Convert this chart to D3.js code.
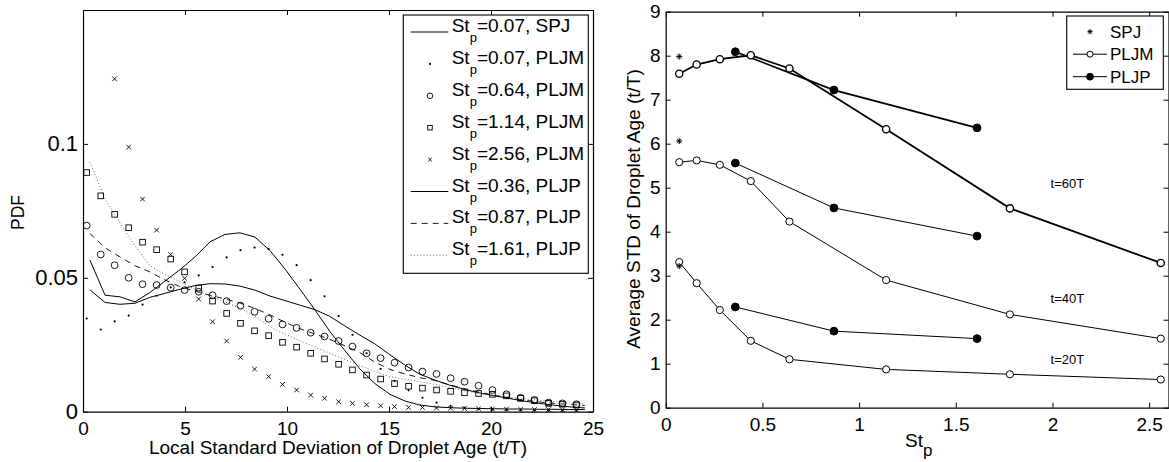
<!DOCTYPE html>
<html>
<head>
<meta charset="utf-8">
<script src="https://cdn.jsdelivr.net/npm/d3@7"></script>
<style>
  html, body { margin: 0; padding: 0; background: #fff; }
  svg { display: block; }
</style>
</head>
<body>
<script>
// ---------------- DATA: left panel (PDF) ----------------
const markerX = [0.18,0.87,1.55,2.24,2.92,3.61,4.30,4.98,5.67,6.35,7.04,7.72,8.41,9.10,9.78,10.47,11.16,11.84,12.53,13.21,13.90,14.59,15.27,15.96,16.64,17.33,18.02,18.70,19.39,20.07,20.76,21.45,22.13,22.82,23.50,24.19];
const pljm007 = [0.0348,0.0307,0.0337,0.0359,0.0400,0.0433,0.0464,0.0483,0.0509,0.0540,0.0576,0.0603,0.0613,0.0607,0.0586,0.0547,0.0491,0.0431,0.0357,0.0287,0.0218,0.0160,0.0115,0.0080,0.0052,0.0034,0.0022,0.0015,0.0010,0.0008,0.0006,0.0005,0.0004,0.0003,0.0003,0.0002];
const pljm064 = [0.0695,0.0587,0.0547,0.0500,0.0476,0.0473,0.0463,0.0454,0.0448,0.0435,0.0413,0.0396,0.0373,0.0347,0.0326,0.0313,0.0295,0.0281,0.0264,0.0243,0.0218,0.0200,0.0183,0.0165,0.0150,0.0141,0.0125,0.0112,0.0097,0.0081,0.0065,0.0052,0.0044,0.0034,0.0031,0.0028];
const pljm114 = [0.0893,0.0806,0.0737,0.0687,0.0633,0.0605,0.0570,0.0522,0.0462,0.0413,0.0367,0.0330,0.0302,0.0284,0.0259,0.0241,0.0218,0.0197,0.0177,0.0156,0.0137,0.0122,0.0105,0.0095,0.0088,0.0081,0.0076,0.0071,0.0068,0.0065,0.0059,0.0050,0.0041,0.0031,0.0028,0.0025];
const pljm256 = [null,null,0.1243,0.0988,0.0794,0.0678,0.0587,0.0498,0.0421,0.0336,0.0264,0.0203,0.0159,0.0131,0.0102,0.0081,0.0062,0.0050,0.0037,0.0031,0.0026,0.0022,0.0019,0.0016,0.0016,0.0014,0.0013,0.0012,0.0011,0.0010,0.0010,0.0009,0.0008,0.0008,0.0007,0.0007];

const lineX = [0.34,1.08,1.81,2.55,3.28,4.02,4.75,5.49,6.22,6.96,7.69,8.43,9.16,9.90,10.63,11.37,12.10,12.84,13.57,14.31,15.04,15.78,16.51,17.25,17.98,18.72,19.45,20.19,20.92,21.66,22.39,23.13,23.86,24.60];
const spj007 = [0.0566,0.0435,0.0429,0.0410,0.0445,0.0488,0.0530,0.0578,0.0634,0.0662,0.0668,0.0652,0.0602,0.0533,0.0458,0.0380,0.0300,0.0228,0.0160,0.0105,0.0065,0.0040,0.0025,0.0018,0.0015,0.0013,0.0012,0.0011,0.0010,0.0010,0.0009,0.0009,0.0008,0.0008];
const pljp036 = [0.0455,0.0408,0.0401,0.0405,0.0427,0.0442,0.0457,0.0471,0.0478,0.0477,0.0469,0.0454,0.0432,0.0415,0.0398,0.0381,0.0356,0.0320,0.0286,0.0253,0.0213,0.0174,0.0140,0.0118,0.0099,0.0083,0.0070,0.0059,0.0049,0.0039,0.0031,0.0024,0.0018,0.0014];
const pljp087 = [0.0665,0.0612,0.0578,0.0545,0.0522,0.0492,0.0467,0.0450,0.0435,0.0421,0.0406,0.0385,0.0362,0.0334,0.0310,0.0290,0.0270,0.0246,0.0221,0.0185,0.0158,0.0141,0.0127,0.0117,0.0100,0.0086,0.0072,0.0061,0.0051,0.0043,0.0036,0.0031,0.0027,0.0023];
const pljp161 = [0.0931,0.0795,0.0705,0.0620,0.0545,0.0512,0.0485,0.0457,0.0432,0.0410,0.0387,0.0357,0.0317,0.0290,0.0265,0.0241,0.0218,0.0195,0.0172,0.0150,0.0131,0.0121,0.0112,0.0102,0.0090,0.0078,0.0068,0.0060,0.0053,0.0047,0.0042,0.0037,0.0033,0.0029];

const xTicksL = [0,5,10,15,20,25];
const xTickLabelsL = ["0","5","10","15","20","25"];
const yTicksL = [0,0.05,0.1];
const yTickLabelsL = ["0","0.05","0.1"];
const legendStL = ["0.07","0.07","0.64","1.14","2.56","0.36","0.87","1.61"];
const legendCaseL = ["SPJ","PLJM","PLJM","PLJM","PLJM","PLJP","PLJP","PLJP"];

// ---------------- DATA: right panel (average STD) ----------------
const stpPLJM = [0.07,0.16,0.28,0.44,0.64,1.14,1.78,2.56];
const pljm60 = [7.59,7.80,7.92,8.01,7.71,6.33,4.53,3.29];
const pljm40 = [5.58,5.62,5.52,5.15,4.23,2.90,2.12,1.57];
const pljm20 = [3.31,2.83,2.22,1.52,1.10,0.87,0.76,0.64];
const stpPLJP = [0.36,0.87,1.61];
const pljp60 = [8.09,7.22,6.36];
const pljp40 = [5.56,4.54,3.90];
const pljp20 = [2.29,1.74,1.57];
const stpSPJ = [0.07];
const spj60 = [7.98];
const spj40 = [6.06];
const spj20 = [3.22];
const timeLabels = ["t=60T","t=40T","t=20T"];
const timeLabelPos = [[1.99,4.99],[1.99,2.38],[1.99,0.99]];

const xTicksR = [0,0.5,1,1.5,2,2.5];
const xTickLabelsR = ["0","0.5","1","1.5","2","2.5"];
const yTicksR = [0,1,2,3,4,5,6,7,8,9];
const yTickLabelsR = ["0","1","2","3","4","5","6","7","8","9"];
const legendLabelsR = ["SPJ","PLJM","PLJP"];

// ---------------- DRAWING ----------------
const FONT = "'Liberation Sans', Arial, Helvetica, sans-serif";
const W = 1169, H = 462;
const svg = d3.select("body").append("svg").attr("width", W).attr("height", H)
  .style("font-family", FONT);

const xL = d3.scaleLinear().domain([0, 25]).range([83, 593]);
const yL = d3.scaleLinear().domain([0, 0.15]).range([411.7, 10]);
const xR = d3.scaleLinear().domain([0, 2.6]).range([665.7, 1168.5]);
const yR = d3.scaleLinear().domain([0, 9]).range([407.7, 11.7]);

function drawAxes(x, y, xt, xl, yt, yl, xFont, yFont, xPad, yPad) {
  const g = svg.append("g");
  const [x0, x1] = x.range(), [y0, y1] = y.range();
  g.append("g").attr("transform", `translate(0,${y0})`)
    .call(d3.axisBottom(x).tickValues(xt).tickFormat((d, i) => xl[i]).tickSizeInner(-5).tickSizeOuter(0).tickPadding(xPad))
    .call(a => a.selectAll("text").style("font-size", xFont + "px").attr("fill", "#000"));
  g.append("g").attr("transform", `translate(0,${y1})`)
    .call(d3.axisTop(x).tickValues(xt).tickFormat("").tickSizeInner(-5).tickSizeOuter(0));
  g.append("g").attr("transform", `translate(${x0},0)`)
    .call(d3.axisLeft(y).tickValues(yt).tickFormat((d, i) => yl[i]).tickSizeInner(-5).tickSizeOuter(0).tickPadding(yPad))
    .call(a => a.selectAll("text").style("font-size", yFont + "px").attr("fill", "#000"));
  g.append("g").attr("transform", `translate(${x1},0)`)
    .call(d3.axisRight(y).tickValues(yt).tickFormat("").tickSizeInner(-5).tickSizeOuter(0));
  g.selectAll(".domain").attr("stroke", "#000").attr("stroke-width", 1.2);
  g.selectAll(".tick line").attr("stroke", "#000").attr("stroke-width", 1);
  g.selectAll("text").style("font-family", FONT);
  return g;
}

// ---- markers ----
function circleMark(g, cx, cy, r, filled, sw) {
  g.append("circle").attr("cx", cx).attr("cy", cy).attr("r", r)
    .attr("fill", filled ? "#000" : "none").attr("stroke", "#000").attr("stroke-width", sw || 0.9);
}
function squareMark(g, cx, cy, s) {
  g.append("rect").attr("x", cx - s / 2).attr("y", cy - s / 2).attr("width", s).attr("height", s)
    .attr("fill", "none").attr("stroke", "#000").attr("stroke-width", 0.9);
}
function crossMark(g, cx, cy, s) {
  g.append("path").attr("d", `M${cx - s},${cy - s}L${cx + s},${cy + s}M${cx - s},${cy + s}L${cx + s},${cy - s}`)
    .attr("stroke", "#000").attr("stroke-width", 0.9).attr("fill", "none");
}
function dotMark(g, cx, cy) {
  g.append("circle").attr("cx", cx).attr("cy", cy).attr("r", 1.1).attr("fill", "#000");
}
function starMark(g, cx, cy, s) {
  const d = s * 0.72;
  g.append("path").attr("d", `M${cx - s},${cy}L${cx + s},${cy}M${cx},${cy - s}L${cx},${cy + s}M${cx - d},${cy - d}L${cx + d},${cy + d}M${cx - d},${cy + d}L${cx + d},${cy - d}`)
    .attr("stroke", "#000").attr("stroke-width", 1).attr("fill", "none");
}

// ================= LEFT PANEL =================
svg.append("defs").append("clipPath").attr("id", "clipL")
  .append("rect").attr("x", 83).attr("y", 10).attr("width", 510).attr("height", 401.7);

const gL = svg.append("g").attr("clip-path", "url(#clipL)");
const lineL = d3.line().x((d, i) => xL(lineX[i])).y(d => yL(d));
const lineSpecs = [
  { data: spj007, dash: null, color: "#000", w: 1 },
  { data: pljp036, dash: null, color: "#000", w: 1 },
  { data: pljp087, dash: "6,5", color: "#000", w: 0.9 },
  { data: pljp161, dash: "1,2.2", color: "#555", w: 0.9 }
];
lineSpecs.forEach(s => {
  gL.append("path").attr("d", lineL(s.data)).attr("fill", "none")
    .attr("stroke", s.color).attr("stroke-width", s.w)
    .attr("stroke-dasharray", s.dash);
});
pljm007.forEach((v, i) => { if (v != null) dotMark(gL, xL(markerX[i]), yL(v)); });
pljm064.forEach((v, i) => { if (v != null) circleMark(gL, xL(markerX[i]), yL(v), 3.4); });
pljm114.forEach((v, i) => { if (v != null) squareMark(gL, xL(markerX[i]), yL(v), 5.6); });
pljm256.forEach((v, i) => { if (v != null) crossMark(gL, xL(markerX[i]), yL(v), 2.3); });

drawAxes(xL, yL, xTicksL, xTickLabelsL, yTicksL, yTickLabelsL, 19, 22, 10, 5);

svg.append("text").attr("transform", "translate(24,212.5) rotate(-90)")
  .attr("text-anchor", "middle").style("font-size", "17.5px").text("PDF");
svg.append("text").attr("x", 338).attr("y", 454).attr("text-anchor", "middle")
  .style("font-size", "19px").text("Local Standard Deviation of Droplet Age (t/T)");

// Left legend
const legL = svg.append("g");
legL.append("rect").attr("x", 403.3).attr("y", 15).attr("width", 185).attr("height", 258.3)
  .attr("fill", "#fff").attr("stroke", "#000").attr("stroke-width", 1.1);
legendStL.forEach((st, i) => {
  const yy = 32 + i * 31.9;
  const x0 = 410.7, x1 = 448.3, xm = 430;
  if (i === 0 || i === 5) legL.append("line").attr("x1", x0).attr("x2", x1).attr("y1", yy).attr("y2", yy).attr("stroke", "#000").attr("stroke-width", 1);
  if (i === 6) legL.append("line").attr("x1", x0).attr("x2", x1).attr("y1", yy).attr("y2", yy).attr("stroke", "#000").attr("stroke-width", 0.9).attr("stroke-dasharray", "6,5");
  if (i === 7) legL.append("line").attr("x1", x0).attr("x2", x1).attr("y1", yy).attr("y2", yy).attr("stroke", "#555").attr("stroke-width", 0.9).attr("stroke-dasharray", "1,2.2");
  if (i === 1) dotMark(legL, xm, yy);
  if (i === 2) circleMark(legL, xm, yy, 2.8);
  if (i === 3) squareMark(legL, xm, yy, 4.5);
  if (i === 4) crossMark(legL, xm, yy, 1.8);
  const t = legL.append("text").attr("x", 451.7).attr("y", yy).style("font-size", "19px");
  t.append("tspan").text("St");
  t.append("tspan").attr("dy", 10).style("font-size", "13px").text("p");
  t.append("tspan").attr("dy", -10).text("=" + st + ", " + legendCaseL[i]);
});

// ================= RIGHT PANEL =================
const gR = svg.append("g");
const lineR = d3.line().x(d => xR(d[0])).y(d => yR(d[1]));
const zip = (a, b) => a.map((v, i) => [v, b[i]]);
const groups = [
  { m: pljm60, p: pljp60, s: spj60, w: 1.8 },
  { m: pljm40, p: pljp40, s: spj40, w: 1 },
  { m: pljm20, p: pljp20, s: spj20, w: 1 }
];
groups.forEach(gr => {
  gR.append("path").attr("d", lineR(zip(stpPLJM, gr.m))).attr("fill", "none").attr("stroke", "#000").attr("stroke-width", gr.w);
  gR.append("path").attr("d", lineR(zip(stpPLJP, gr.p))).attr("fill", "none").attr("stroke", "#000").attr("stroke-width", gr.w);
  gr.m.forEach((v, i) => {
    gR.append("circle").attr("cx", xR(stpPLJM[i])).attr("cy", yR(v)).attr("r", 3.6)
      .attr("fill", "#fff").attr("stroke", "#000").attr("stroke-width", gr.w > 1 ? 1.4 : 1);
  });
  gr.p.forEach((v, i) => circleMark(gR, xR(stpPLJP[i]), yR(v), 3.9, true, 1));
  gr.s.forEach((v, i) => starMark(gR, xR(stpSPJ[i]), yR(v), 3));
});
timeLabels.forEach((t, i) => {
  gR.append("text").attr("x", xR(timeLabelPos[i][0])).attr("y", yR(timeLabelPos[i][1]))
    .style("font-size", "13px").text(t);
});

drawAxes(xR, yR, xTicksR, xTickLabelsR, yTicksR, yTickLabelsR, 19, 19, 10, 5);

svg.append("text").attr("transform", "translate(640,209) rotate(-90)")
  .attr("text-anchor", "middle").style("font-size", "19px").text("Average STD of Droplet Age (t/T)");
const xlabR = svg.append("text").attr("x", 905).attr("y", 447).style("font-size", "19px");
xlabR.append("tspan").text("St");
xlabR.append("tspan").attr("dy", 9).style("font-size", "17px").text("p");

// Right legend
const legR = svg.append("g");
legR.append("rect").attr("x", 1066.7).attr("y", 16).attr("width", 96.6).attr("height", 73.3)
  .attr("fill", "#fff").attr("stroke", "#000").attr("stroke-width", 1.1);
legendLabelsR.forEach((lab, i) => {
  const yy = 31.7 + i * 22.5;
  if (i === 0) starMark(legR, 1090, yy, 2.6);
  else {
    legR.append("line").attr("x1", 1073).attr("x2", 1107).attr("y1", yy).attr("y2", yy).attr("stroke", "#000").attr("stroke-width", 1);
    if (i === 1) legR.append("circle").attr("cx", 1090).attr("cy", yy).attr("r", 3).attr("fill", "#fff").attr("stroke", "#000").attr("stroke-width", 1);
    else circleMark(legR, 1090, yy, 3.4, true, 1);
  }
  legR.append("text").attr("x", 1110).attr("y", yy + 6).style("font-size", "17px").text(lab);
});
</script>
</body>
</html>
